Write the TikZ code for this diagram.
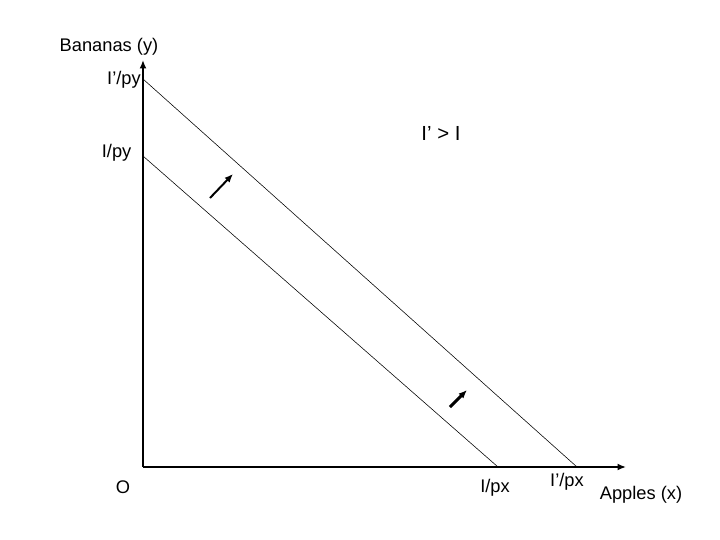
\documentclass[tikz,border=0pt]{standalone}
\usepackage{fontspec}
\setmainfont{Liberation Sans}
\usetikzlibrary{arrows.meta}
\tikzset{
  axis/.style={line width=1.4pt,-{Latex[length=6pt,width=5pt]}},
  budget/.style={line width=0.4pt},
  movearrow/.style={line width=1.4pt,-{Latex[length=6pt,width=5pt]}},
  lbl/.style={font=\fontsize{13}{15}\selectfont,inner sep=1pt}
}
\begin{document}
\begin{tikzpicture}
  \useasboundingbox (-3.575,-1.825) rectangle (14.425,11.675);
  % axes
  \coordinate (O) at (0,0);
  \coordinate (ytop) at (0,10.175);
  \coordinate (xend) at (12.075,0);
  \draw[axis] (O) -- (ytop);
  \draw[axis] (O) -- (xend);
  % budget lines
  \coordinate (Iy) at (0,7.775);
  \coordinate (Ix) at (8.875,0);
  \coordinate (Jy) at (0,9.7);
  \coordinate (Jx) at (10.85,0);
  \draw[budget] (Iy) -- (Ix);
  \draw[budget] (Jy) -- (Jx);
  % shift arrows
  \coordinate (a1) at (1.675,6.725);
  \coordinate (b1) at (2.25,7.325);
  \coordinate (a2) at (7.675,1.5);
  \coordinate (b2) at (8.1,1.925);
  \draw[movearrow] (a1) -- (b1);
  \draw[movearrow,line width=2.2pt] (a2) -- (b2);
  % labels
  \node[lbl] (ylab) at (-0.85,10.5) {Bananas (y)};
  \node[lbl] (jpy) at (-0.475,9.675) {I’/py};
  \node[lbl] (ipy) at (-0.66,7.85) {I/py};
  \node[lbl,font=\fontsize{14.5}{17}\selectfont] (cmp) at (7.45,8.35) {I’ > I};
  \node[lbl] (orig) at (-0.5,-0.5) {O};
  \node[lbl] (ipx) at (8.8,-0.525) {I/px};
  \node[lbl] (jpx) at (10.6,-0.375) {I’/px};
  \node[lbl] (xlab) at (12.45,-0.7) {Apples (x)};
\end{tikzpicture}
\end{document}
